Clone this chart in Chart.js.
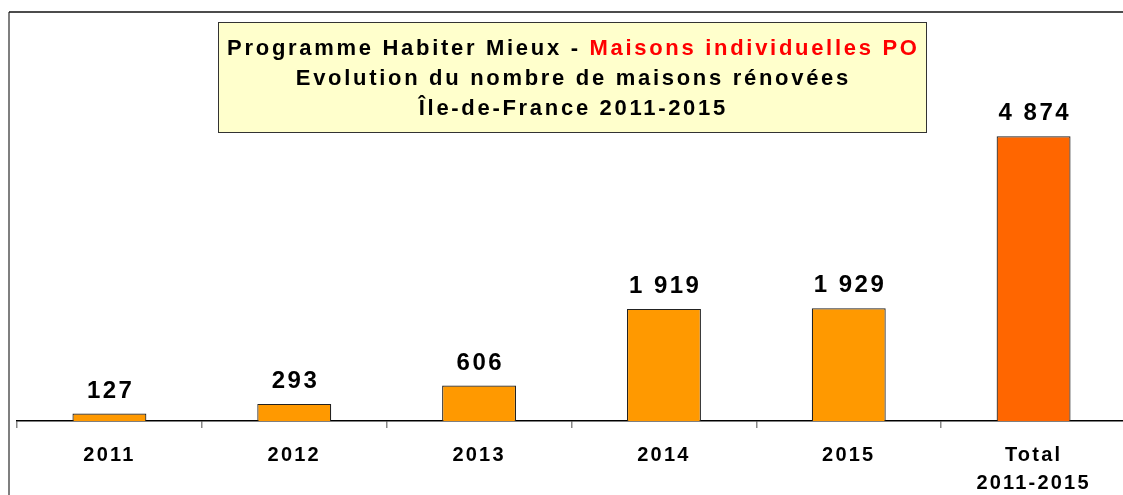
<!DOCTYPE html>
<html>
<head>
<meta charset="utf-8">
<script src="https://cdn.jsdelivr.net/npm/chart.js@4"></script>
<style>
html,body{margin:0;padding:0;background:#fff;overflow:hidden;}
#wrap{width:1126px;height:495px;position:relative;}
</style>
</head>
<body>
<div id="wrap"><canvas id="c" width="1126" height="495"></canvas></div>
<script>
const categories = [["2011"], ["2012"], ["2013"], ["2014"], ["2015"], ["Total", "2011-2015"]];
const values = [127, 293, 606, 1919, 1929, 4874];
const barColors = ["#FF9900", "#FF9900", "#FF9900", "#FF9900", "#FF9900", "#FF6600"];
const titleLine1 = ["Programme Habiter Mieux - ", "Maisons individuelles PO"];
const titleLine2 = "Evolution du nombre de maisons rénovées";
const titleLine3 = "Île-de-France 2011-2015";

function fmt(v){ return String(v).replace(/\B(?=(\d{3})+(?!\d))/g, " "); }

const FONT = "'Liberation Sans', Arial, sans-serif";

const framePlugin = {
  id: 'frame',
  beforeDraw(chart){
    const ctx = chart.ctx;
    ctx.save();
    ctx.letterSpacing = '0px';
    ctx.fillStyle = '#fff';
    ctx.fillRect(0,0,chart.width,chart.height);
    ctx.lineWidth = 1.5;
    ctx.strokeStyle = '#555';
    ctx.beginPath();
    ctx.moveTo(9, chart.height);
    ctx.lineTo(9, 12);
    ctx.stroke();
    ctx.strokeStyle = '#111';
    ctx.beginPath();
    ctx.moveTo(9, 12);
    ctx.lineTo(chart.width, 12);
    ctx.stroke();
    ctx.restore();
    ctx.letterSpacing = '2.2px';
  },
  beforeDatasetsDraw(chart){ chart.ctx.letterSpacing = '0px'; },
  afterDraw(chart){
    const ctx = chart.ctx;
    ctx.save();
    // title box
    ctx.fillStyle = '#FFFFCC';
    ctx.fillRect(218.5, 22.5, 708, 110);
    ctx.strokeStyle = '#333';
    ctx.lineWidth = 1;
    ctx.strokeRect(218.5, 22.5, 708, 110);
    ctx.font = "bold 22px " + FONT;
    ctx.letterSpacing = '2.7px';
    ctx.textBaseline = 'alphabetic';
    ctx.textAlign = 'left';
    const cx = 572 + 1.35;
    const w1a = ctx.measureText(titleLine1[0]).width;
    const w1b = ctx.measureText(titleLine1[1]).width;
    let x0 = cx - (w1a + w1b)/2;
    ctx.fillStyle = '#000';
    ctx.fillText(titleLine1[0], x0, 55);
    ctx.fillStyle = '#FF0000';
    ctx.fillText(titleLine1[1], x0 + w1a, 55);
    ctx.fillStyle = '#000';
    const w2 = ctx.measureText(titleLine2).width;
    ctx.fillText(titleLine2, cx - w2/2, 85);
    const w3 = ctx.measureText(titleLine3).width;
    ctx.fillText(titleLine3, cx - w3/2, 115);

    // data labels
    ctx.font = "bold 24px " + FONT;
    ctx.letterSpacing = '2.5px';
    const meta = chart.getDatasetMeta(0);
    meta.data.forEach((bar, i) => {
      const t = fmt(values[i]);
      const w = ctx.measureText(t).width;
      ctx.fillText(t, bar.x - w/2 + 1.25, bar.y - 16);
    });
    ctx.restore();
  }
};

new Chart(document.getElementById('c'), {
  type: 'bar',
  data: {
    labels: categories,
    datasets: [{
      data: values,
      backgroundColor: barColors,
      borderColor: '#222',
      borderWidth: 1.2,
      borderSkipped: 'bottom',
      barPercentage: 0.4,
      categoryPercentage: 1.0
    }]
  },
  options: {
    responsive: false,
    animation: false,
    devicePixelRatio: 1,
    layout: { padding: { left: 17, right: 0, top: 12, bottom: 0 } },
    plugins: { legend: { display: false }, title: { display: false }, tooltip: { enabled: false } },
    scales: {
      y: { display: false, min: 0, max: 7000 },
      x: {
        offset: true,
        afterFit: (s) => { s.height = 74; },
        grid: { display: true, drawOnChartArea: false, drawTicks: true, tickLength: 7, color: '#888', lineWidth: 1.5, offset: true },
        border: { display: true, color: '#000', width: 1.5 },
        ticks: { color: '#000', font: { family: FONT, size: 20, weight: 'bold', lineHeight: 1.4 }, padding: 13, maxRotation: 0, autoSkip: false }
      }
    }
  },
  plugins: [framePlugin]
});
</script>
</body>
</html>
